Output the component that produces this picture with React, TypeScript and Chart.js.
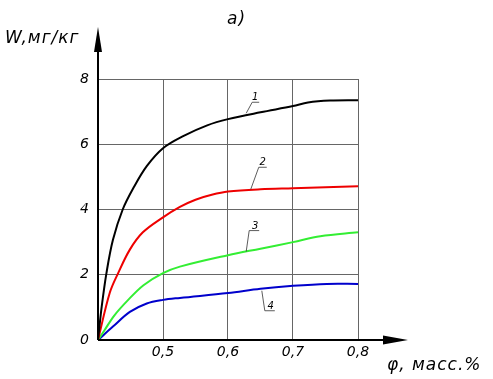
import React, { useEffect, useRef } from "react";
import { Chart, registerables } from "chart.js";

Chart.register(...registerables);

// Series 1 (black)
const s1X = [0.4, 0.4057, 0.413, 0.423, 0.438, 0.455, 0.475, 0.5, 0.531, 0.568, 0.6, 0.65, 0.7, 0.723, 0.757, 0.8];
const s1Y = [0, 1.02, 2.05, 3.07, 4.0, 4.68, 5.33, 5.88, 6.25, 6.58, 6.77, 6.98, 7.17, 7.28, 7.34, 7.35];
// Series 2 (red)
const s2X = [0.4, 0.418, 0.431, 0.449, 0.469, 0.5, 0.526, 0.55, 0.575, 0.6, 0.65, 0.7, 0.8];
const s2Y = [0, 1.44, 2.05, 2.77, 3.3, 3.76, 4.08, 4.3, 4.45, 4.55, 4.62, 4.65, 4.71];
// Series 3 (green)
const s3X = [0.4, 0.41, 0.425, 0.445, 0.47, 0.5, 0.526, 0.6, 0.65, 0.7, 0.742, 0.8];
const s3Y = [0, 0.3, 0.75, 1.2, 1.68, 2.05, 2.25, 2.6, 2.8, 3.0, 3.18, 3.3];
// Series 4 (blue)
const s4X = [0.4, 0.423, 0.449, 0.475, 0.5, 0.526, 0.6, 0.65, 0.7, 0.752, 0.8];
const s4Y = [0, 0.41, 0.86, 1.12, 1.23, 1.29, 1.44, 1.57, 1.66, 1.72, 1.72];

const seriesNames = ["1", "2", "3", "4"];
const seriesColors = ["#000000", "#ee0000", "#33ee33", "#0000cc"];
// leader anchors on the curves (data units)
const leaderAnchorX = [0.628, 0.635, 0.628, 0.652];
const leaderAnchorY = [6.95, 4.62, 2.71, 1.51];

const xMin = 0.4;
const xMax = 0.8;
const xStep = 0.1;
const yMin = 0;
const yMax = 8;
const yStep = 2;

const yTitle = "W,мг/кг";
const xTitle = "φ, масс.%";
const chartTitle = "a)";

const FONT = "'DejaVu Sans', sans-serif";

function pts(xs: number[], ys: number[]) {
  return xs.map((x, i) => ({ x, y: ys[i] }));
}

const decorPlugin = {
  id: "decor",
  afterDatasetsDraw(chart: any) {
    const ctx = chart.ctx as CanvasRenderingContext2D;
    const ca = chart.chartArea;
    const xs = chart.scales.x;
    const ys = chart.scales.y;
    ctx.save();
    // axes
    ctx.strokeStyle = "#000";
    ctx.fillStyle = "#000";
    ctx.lineWidth = 2;
    ctx.beginPath();
    ctx.moveTo(ca.left, ca.bottom);
    ctx.lineTo(ca.left, ca.top - 30);
    ctx.moveTo(ca.left, ca.bottom);
    ctx.lineTo(ca.right + 30, ca.bottom);
    ctx.stroke();
    // y arrow
    ctx.beginPath();
    ctx.moveTo(ca.left, ca.top - 52);
    ctx.lineTo(ca.left - 4, ca.top - 27);
    ctx.lineTo(ca.left + 4, ca.top - 27);
    ctx.closePath();
    ctx.fill();
    // x arrow
    ctx.beginPath();
    ctx.moveTo(ca.right + 50, ca.bottom);
    ctx.lineTo(ca.right + 25, ca.bottom - 4.5);
    ctx.lineTo(ca.right + 25, ca.bottom + 4.5);
    ctx.closePath();
    ctx.fill();

    // titles
    ctx.font = `italic 17px ${FONT}`;
    (ctx as any).letterSpacing = "1px";
    ctx.textBaseline = "middle";
    ctx.textAlign = "left";
    ctx.fillText(yTitle, 5, ca.top - 40);
    ctx.fillText(xTitle, ca.right + 29, ca.bottom + 26);
    ctx.fillText(chartTitle, 227, 20);
    (ctx as any).letterSpacing = "0px";

    // leaders
    ctx.lineWidth = 0.8;
    ctx.strokeStyle = "#333";
    ctx.font = `italic 10px ${FONT}`;
    ctx.textAlign = "center";
    ctx.textBaseline = "alphabetic";
    const offs = [
      [6, -11, 13, -11, 9, -13],
      [8, -22, 16, -22, 12, -24],
      [3, -21, 13, -21, 9, -23],
      [3, 20, 13, 20, 9, 18],
    ];
    for (let i = 0; i < seriesNames.length; i++) {
      const px = xs.getPixelForValue(leaderAnchorX[i]);
      const py = ys.getPixelForValue(leaderAnchorY[i]);
      const o = offs[i];
      ctx.beginPath();
      ctx.moveTo(px, py);
      ctx.lineTo(px + o[0], py + o[1]);
      ctx.lineTo(px + o[2], py + o[3]);
      ctx.stroke();
      ctx.fillText(seriesNames[i], px + o[4], py + o[5]);
    }
    ctx.restore();
  },
};

export default function App() {
  const ref = useRef<HTMLCanvasElement | null>(null);
  useEffect(() => {
    if (!ref.current) return;
    const all = [pts(s1X, s1Y), pts(s2X, s2Y), pts(s3X, s3Y), pts(s4X, s4Y)];
    const chart = new Chart(ref.current, {
      type: "line",
      data: {
        datasets: all.map((d, i) => ({
          label: seriesNames[i],
          data: d,
          borderColor: seriesColors[i],
          borderWidth: 2,
          pointRadius: 0,
          fill: false,
          tension: 0.35,
        })),
      },
      options: {
        animation: false,
        responsive: false,
        maintainAspectRatio: false,
        layout: { padding: { left: 0, right: 135, top: 79, bottom: 9 } },
        plugins: { legend: { display: false }, tooltip: { enabled: false }, title: { display: false } },
        scales: {
          x: {
            type: "linear",
            min: xMin,
            max: xMax,
            ticks: {
              stepSize: xStep,
              padding: 4,
              color: "#000",
              font: { family: FONT, size: 14, style: "italic" },
              callback: (v: any) => {
                const n = Number(v);
                if (Math.abs(n - xMin) < 1e-6) return "";
                return n.toFixed(1).replace(".", ",");
              },
            },
            grid: { color: "#666", lineWidth: 1, drawTicks: false },
            border: { display: false },
            afterFit: (s: any) => { s.height = 30; },
          },
          y: {
            type: "linear",
            min: yMin,
            max: yMax,
            ticks: {
              stepSize: yStep,
              padding: 9,
              color: "#000",
              font: { family: FONT, size: 14, style: "italic" },
            },
            grid: { color: "#666", lineWidth: 1, drawTicks: false },
            border: { display: false },
            afterFit: (s: any) => { s.width = 98; },
          },
        },
      },
      plugins: [decorPlugin],
    });
    return () => chart.destroy();
  }, []);
  return (
    <div style={{ position: "absolute", left: 0, top: 0, width: 493, height: 379, background: "#fff" }}>
      <canvas ref={ref} width={493} height={379} style={{ width: 493, height: 379 }} />
    </div>
  );
}
